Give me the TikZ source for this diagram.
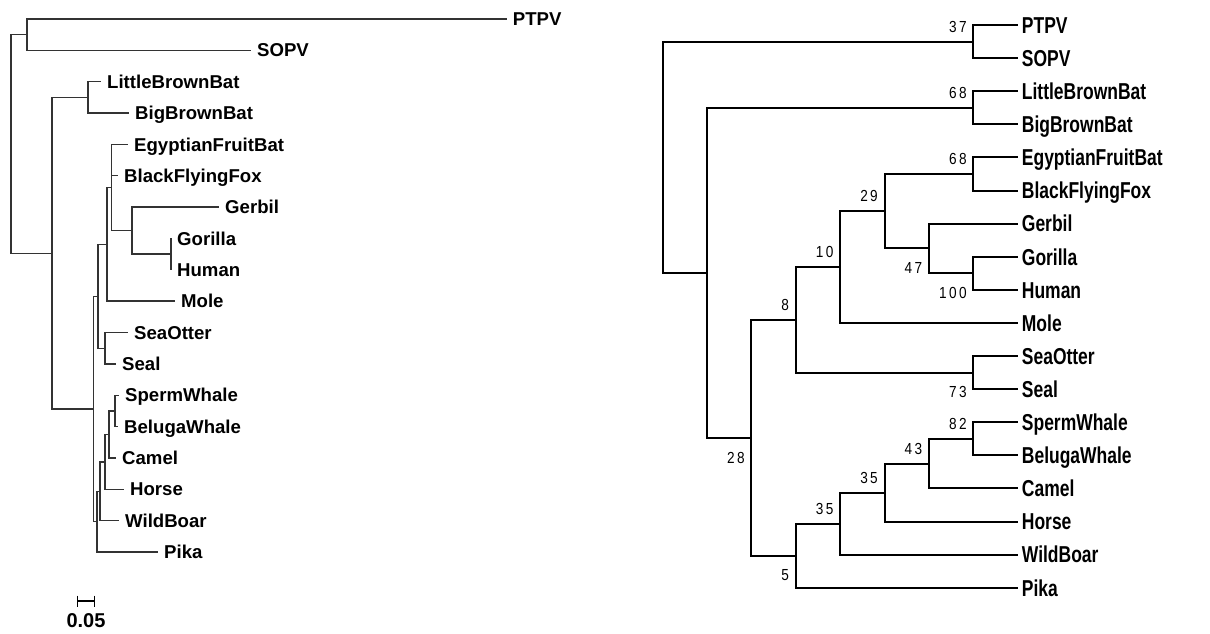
\documentclass[tikz,border=0pt]{standalone}
\usepackage{fontspec}
\setmainfont{Liberation Sans}
\newfontfamily\narrowsans[FakeStretch=0.76]{Liberation Sans}
\newfontfamily\supportsans[FakeStretch=0.85,LetterSpace=15]{Liberation Sans}
\begin{document}
\begin{tikzpicture}[x=1pt,y=-1pt,
  ltree/.style={draw=black!80,line width=1.4pt},
  rtree/.style={draw=black,line width=2pt},
  ltaxon/.style={anchor=base west,inner sep=0pt,xshift=6pt,yshift=-6.6pt,
    font=\bfseries\fontsize{18.6}{20}\selectfont},
  rtaxon/.style={anchor=base west,inner sep=0pt,xshift=4pt,yshift=-8.3pt,
    font=\narrowsans\bfseries\fontsize{23}{25}\selectfont},
  boot/.style={anchor=base east,inner sep=0pt,xshift=-6.5pt,
    font=\supportsans\fontsize{16}{17}\selectfont},
  bootabove/.style={boot,yshift=9.2pt},
  bootbelow/.style={boot,yshift=-25.3pt},
]
\useasboundingbox (0,0) rectangle (1210,633);

% ---------------- left tree: phylogram with branch lengths ----------------
% tips (end of terminal branch)
\coordinate (lPTPV) at (506.7,19);
\coordinate (lSOPV) at (251,50.35);
\coordinate (lLBB)  at (101,81.7);
\coordinate (lBBB)  at (129,113.05);
\coordinate (lEFB)  at (128,144.4);
\coordinate (lBFF)  at (118,175.75);
\coordinate (lGer)  at (219,207.1);
\coordinate (lGor)  at (171,238.45);
\coordinate (lHum)  at (171,269.8);
\coordinate (lMol)  at (175,301.15);
\coordinate (lSOt)  at (128,332.5);
\coordinate (lSea)  at (116,363.85);
\coordinate (lSpe)  at (119,395.2);
\coordinate (lBel)  at (118,426.55);
\coordinate (lCam)  at (116,457.9);
\coordinate (lHor)  at (124,489.25);
\coordinate (lWBo)  at (119,520.6);
\coordinate (lPik)  at (158,551.95);
% internal nodes
\coordinate (lPS)  at (27,34.7);
\coordinate (lBat) at (88,97.4);
\coordinate (lGH)  at (171,254.1);
\coordinate (lG)   at (132,230.6);
\coordinate (lW)   at (111.5,187.5);
\coordinate (lV)   at (107,244.3);
\coordinate (lSS)  at (105,348.2);
\coordinate (lU)   at (98,296.3);
\coordinate (lF)   at (115,410.9);
\coordinate (lE)   at (109,434.4);
\coordinate (lD)   at (105,461.8);
\coordinate (lC)   at (100,491.2);
\coordinate (lB)   at (97,521.6);
\coordinate (lA)   at (93.3,408.9);
\coordinate (lM)   at (52,253.2);
\coordinate (lR)   at (11,144);

\foreach \p/\c in {lR/lPS,lR/lM,lPS/lPTPV,lPS/lSOPV,lM/lBat,lM/lA,
    lBat/lLBB,lBat/lBBB,lA/lU,lA/lB,lU/lV,lU/lSS,lV/lW,lV/lMol,
    lW/lEFB,lW/lBFF,lW/lG,lG/lGer,lG/lGH,lGH/lGor,lGH/lHum,
    lSS/lSOt,lSS/lSea,lB/lC,lB/lPik,lC/lD,lC/lWBo,lD/lE,lD/lHor,
    lE/lF,lE/lCam,lF/lSpe,lF/lBel}
  \draw[ltree] (\p) |- (\c);

\node[ltaxon] (ltPTPV) at (lPTPV) {PTPV};
\node[ltaxon] (ltSOPV) at (lSOPV) {SOPV};
\node[ltaxon] (ltLBB)  at (lLBB)  {LittleBrownBat};
\node[ltaxon] (ltBBB)  at (lBBB)  {BigBrownBat};
\node[ltaxon] (ltEFB)  at (lEFB)  {EgyptianFruitBat};
\node[ltaxon] (ltBFF)  at (lBFF)  {BlackFlyingFox};
\node[ltaxon] (ltGer)  at (lGer)  {Gerbil};
\node[ltaxon] (ltGor)  at (lGor)  {Gorilla};
\node[ltaxon] (ltHum)  at (lHum)  {Human};
\node[ltaxon] (ltMol)  at (lMol)  {Mole};
\node[ltaxon] (ltSOt)  at (lSOt)  {SeaOtter};
\node[ltaxon] (ltSea)  at (lSea)  {Seal};
\node[ltaxon] (ltSpe)  at (lSpe)  {SpermWhale};
\node[ltaxon] (ltBel)  at (lBel)  {BelugaWhale};
\node[ltaxon] (ltCam)  at (lCam)  {Camel};
\node[ltaxon] (ltHor)  at (lHor)  {Horse};
\node[ltaxon] (ltWBo)  at (lWBo)  {WildBoar};
\node[ltaxon] (ltPik)  at (lPik)  {Pika};

% scale bar
\coordinate (sbL) at (77.5,601);
\coordinate (sbR) at (94.5,601);
\draw[ltree,draw=black] (sbL) -- (sbR);
\draw[ltree,draw=black] ([yshift=5.5pt]sbL) -- ([yshift=-5.5pt]sbL);
\draw[ltree,draw=black] ([yshift=5.5pt]sbR) -- ([yshift=-5.5pt]sbR);
\node[anchor=base,inner sep=0pt,font=\bfseries\fontsize{20}{22}\selectfont]
  (sbText) at (86,627.7) {0.05};

% ---------------- right tree: cladogram with bootstrap support ----------------
\def\LO{1017.7}\def\LI{973.3}\def\LII{928.9}\def\LIII{884.5}\def\LIV{840.1}
\def\LV{795.7}\def\LVI{751.3}\def\LVII{706.9}\def\LVIII{662.5}
% tips
\coordinate (rPTPV) at (\LO,25);
\coordinate (rSOPV) at (\LO,58.1);
\coordinate (rLBB)  at (\LO,91.2);
\coordinate (rBBB)  at (\LO,124.3);
\coordinate (rEFB)  at (\LO,157.4);
\coordinate (rBFF)  at (\LO,190.5);
\coordinate (rGer)  at (\LO,223.6);
\coordinate (rGor)  at (\LO,256.7);
\coordinate (rHum)  at (\LO,289.8);
\coordinate (rMol)  at (\LO,322.9);
\coordinate (rSOt)  at (\LO,356.0);
\coordinate (rSea)  at (\LO,389.1);
\coordinate (rSpe)  at (\LO,422.2);
\coordinate (rBel)  at (\LO,455.3);
\coordinate (rCam)  at (\LO,488.4);
\coordinate (rHor)  at (\LO,521.5);
\coordinate (rWBo)  at (\LO,554.6);
\coordinate (rPik)  at (\LO,587.7);
% internal nodes
\coordinate (rPS)   at (\LI,41.55);
\coordinate (rBat)  at (\LI,107.75);
\coordinate (rEB)   at (\LI,173.95);
\coordinate (rGH)   at (\LI,273.25);
\coordinate (rSS)   at (\LI,372.55);
\coordinate (rSB)   at (\LI,438.75);
\coordinate (rN47)  at (\LII,248.43);
\coordinate (rN43)  at (\LII,463.58);
\coordinate (rN29)  at (\LIII,211.19);
\coordinate (rN35a) at (\LIII,492.54);
\coordinate (rN10)  at (\LIV,267.04);
\coordinate (rN35b) at (\LIV,523.57);
\coordinate (rN8)   at (\LV,319.8);
\coordinate (rN5)   at (\LV,555.63);
\coordinate (rN28)  at (\LVI,437.7);
\coordinate (rMain) at (\LVII,272.7);
\coordinate (rRoot) at (\LVIII,157.1);

\foreach \p/\c in {rRoot/rPS,rRoot/rMain,rPS/rPTPV,rPS/rSOPV,
    rMain/rBat,rMain/rN28,rBat/rLBB,rBat/rBBB,rN28/rN8,rN28/rN5,
    rN8/rN10,rN8/rSS,rN10/rN29,rN10/rMol,rN29/rEB,rN29/rN47,
    rEB/rEFB,rEB/rBFF,rN47/rGer,rN47/rGH,rGH/rGor,rGH/rHum,
    rSS/rSOt,rSS/rSea,rN5/rN35b,rN5/rPik,rN35b/rN35a,rN35b/rWBo,
    rN35a/rN43,rN35a/rHor,rN43/rSB,rN43/rCam,rSB/rSpe,rSB/rBel}
  \draw[rtree] (\p) |- (\c);

\node[rtaxon] (rtPTPV) at (rPTPV) {PTPV};
\node[rtaxon] (rtSOPV) at (rSOPV) {SOPV};
\node[rtaxon] (rtLBB)  at (rLBB)  {LittleBrownBat};
\node[rtaxon] (rtBBB)  at (rBBB)  {BigBrownBat};
\node[rtaxon] (rtEFB)  at (rEFB)  {EgyptianFruitBat};
\node[rtaxon] (rtBFF)  at (rBFF)  {BlackFlyingFox};
\node[rtaxon] (rtGer)  at (rGer)  {Gerbil};
\node[rtaxon] (rtGor)  at (rGor)  {Gorilla};
\node[rtaxon] (rtHum)  at (rHum)  {Human};
\node[rtaxon] (rtMol)  at (rMol)  {Mole};
\node[rtaxon] (rtSOt)  at (rSOt)  {SeaOtter};
\node[rtaxon] (rtSea)  at (rSea)  {Seal};
\node[rtaxon] (rtSpe)  at (rSpe)  {SpermWhale};
\node[rtaxon] (rtBel)  at (rBel)  {BelugaWhale};
\node[rtaxon] (rtCam)  at (rCam)  {Camel};
\node[rtaxon] (rtHor)  at (rHor)  {Horse};
\node[rtaxon] (rtWBo)  at (rWBo)  {WildBoar};
\node[rtaxon] (rtPik)  at (rPik)  {Pika};

% bootstrap values
\node[bootabove] (bPS)   at (rPS)   {37};
\node[bootabove] (bBat)  at (rBat)  {68};
\node[bootabove] (bEB)   at (rEB)   {68};
\node[bootabove] (bN29)  at (rN29)  {29};
\node[bootabove] (bN10)  at (rN10)  {10};
\node[bootabove] (bN8)   at (rN8)   {8};
\node[bootbelow] (bN47)  at (rN47)  {47};
\node[bootbelow] (bGH)   at (rGH)   {100};
\node[bootbelow] (bSS)   at (rSS)   {73};
\node[bootabove] (bSB)   at (rSB)   {82};
\node[bootabove] (bN43)  at (rN43)  {43};
\node[bootabove] (bN35a) at (rN35a) {35};
\node[bootabove] (bN35b) at (rN35b) {35};
\node[bootbelow] (bN28)  at (rN28)  {28};
\node[bootbelow] (bN5)   at (rN5)   {5};
\end{tikzpicture}
\end{document}
